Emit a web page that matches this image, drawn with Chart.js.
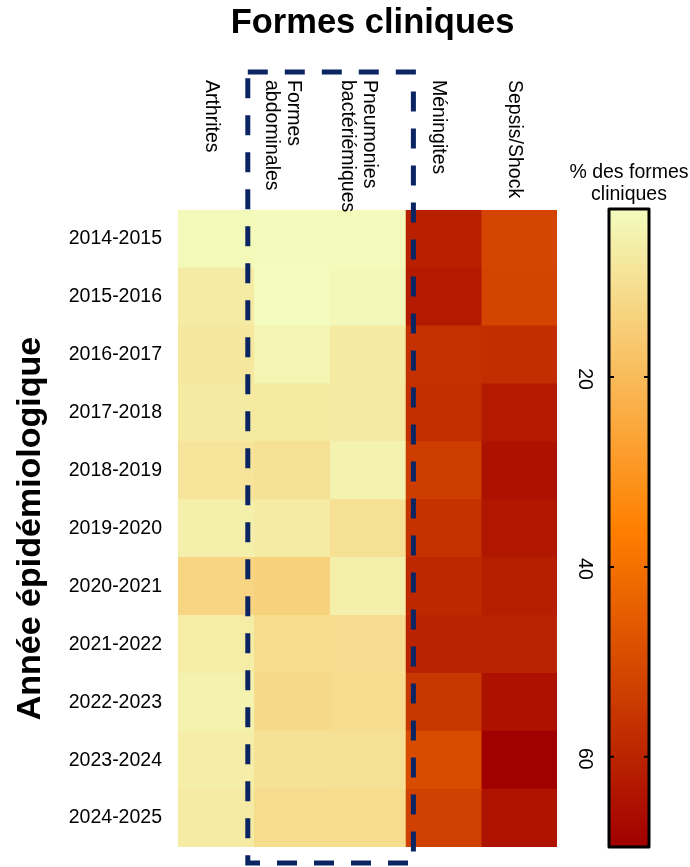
<!DOCTYPE html>
<html>
<head>
<meta charset="utf-8">
<script src="https://cdn.jsdelivr.net/npm/chart.js@4/dist/chart.umd.min.js"></script>
<style>
  html, body { margin: 0; padding: 0; background: #fff; }
  canvas { display: block; }
</style>
</head>
<body>
<canvas id="heat" width="690" height="867"></canvas>
<script>
// Epidemiological seasons (rows, top to bottom)
const years = [
  '2014-2015', '2015-2016', '2016-2017', '2017-2018', '2018-2019', '2019-2020',
  '2020-2021', '2021-2022', '2022-2023', '2023-2024', '2024-2025'
];

// Clinical forms (columns, left to right); multi-line labels as arrays
const forms = [
  'Arthrites',
  ['Formes', 'abdominales'],
  ['Pneumonies', 'bactériémiques'],
  'Méningites',
  'Sepsis/Shock'
];

// Share of each clinical form per season (%)
const arthrites   = [3.1, 6.9, 8.0, 7.2, 8.8, 5.5, 12.9, 6.6, 5.0, 6.1, 6.9];
const abdominales = [2.8, 2.3, 4.2, 7.7, 9.9, 6.9, 14.0, 11.0, 11.5, 9.6, 11.0];
const pneumonies  = [2.8, 3.4, 7.2, 7.4, 5.0, 9.9, 5.8, 10.7, 11.0, 9.9, 11.0];
const meningites  = [61.1, 62.7, 56.9, 57.2, 53.5, 56.4, 59.0, 60.3, 55.1, 49.6, 52.7];
const sepsis      = [51.4, 51.7, 57.4, 62.7, 64.8, 63.7, 61.6, 60.3, 64.8, 69.5, 64.5];

const seriesByForm = [arthrites, abdominales, pneumonies, meningites, sepsis];

// Colour bar
const colorbarTicks = [20, 40, 60];
const colorbarTitle = ['% des formes', 'cliniques'];
const chartTitle = 'Formes cliniques';
const yTitle = 'Année épidémiologique';

const allValues = seriesByForm.flat();
const cMin = Math.min(...allValues);
const cMax = Math.max(...allValues);

// Three-stop ramp: pale yellow -> orange -> dark red
const rampStops = [[243, 252, 190], [255, 128, 0], [160, 0, 0]];
function heatColor(v) {
  let t = (v - cMin) / (cMax - cMin);
  t = Math.max(0, Math.min(1, t));
  let a, b, u;
  if (t <= 0.5) { a = rampStops[0]; b = rampStops[1]; u = t * 2; }
  else { a = rampStops[1]; b = rampStops[2]; u = (t - 0.5) * 2; }
  const c = a.map((x, i) => Math.round(x + (b[i] - x) * u));
  return `rgb(${c[0]},${c[1]},${c[2]})`;
}

const FONT = '"Liberation Sans", Arial, Helvetica, sans-serif';
Chart.defaults.font.family = FONT;
Chart.defaults.color = '#000';

// One dataset per clinical form: each cell is a floating bar spanning its column
const datasets = forms.map((f, c) => ({
  label: Array.isArray(f) ? f.join(' ') : f,
  data: years.map((y, r) => ({ x: [c - 0.5, c + 0.5], y: y, v: seriesByForm[c][r] })),
  backgroundColor: ctx => (ctx.raw ? heatColor(ctx.raw.v) : '#fff'),
  borderWidth: 0,
  grouped: false,
  categoryPercentage: 1,
  barPercentage: 1
}));

const decorations = {
  id: 'decorations',
  afterDatasetsDraw(chart) {
    const { ctx, chartArea } = chart;
    const xs = chart.scales.x;

    // Dashed frame around the abdominal and pneumonia columns
    ctx.save();
    const fLeft = xs.getPixelForValue(0.5) - 6;
    const fRight = xs.getPixelForValue(2.5) + 8;
    const fTop = chartArea.top - 138;
    const fBottom = chartArea.bottom + 16;
    ctx.strokeStyle = '#0b2462';
    ctx.lineWidth = 5;
    ctx.setLineDash([20, 17]);
    ctx.beginPath();
    ctx.moveTo(fLeft, fTop);
    ctx.lineTo(fRight, fTop);
    ctx.lineTo(fRight, fBottom);
    ctx.lineTo(fLeft, fBottom);
    ctx.closePath();
    ctx.stroke();
    ctx.restore();
  },
  afterDraw(chart) {
    const { ctx, chartArea } = chart;
    const xs = chart.scales.x;

    // Main title
    ctx.save();
    ctx.fillStyle = '#000';
    ctx.font = `bold 34.5px ${FONT}`;
    ctx.textAlign = 'center';
    ctx.textBaseline = 'middle';
    ctx.fillText(chartTitle, (chartArea.left + chartArea.right) / 2 + 5, 23);
    ctx.restore();

    // Column labels, rotated to read top to bottom
    ctx.save();
    ctx.fillStyle = '#000';
    ctx.font = `19.5px ${FONT}`;
    const labelTop = chartArea.top - 130;
    forms.forEach((f, c) => {
      const lines = Array.isArray(f) ? f : [f];
      const cx = xs.getPixelForValue(c) - 5 - (lines.length - 1) * 4;
      lines.forEach((ln, k) => {
        const lx = cx + ((lines.length - 1) / 2 - k) * 22;
        ctx.save();
        ctx.translate(lx, labelTop);
        ctx.rotate(Math.PI / 2);
        ctx.textAlign = 'left';
        ctx.textBaseline = 'middle';
        ctx.fillText(ln, 0, 0);
        ctx.restore();
      });
    });
    ctx.restore();

    // Colour bar: same vertical extent as the heatmap, value range cMin..cMax
    const barLeft = chartArea.right + 52;
    const barW = 40;
    const barTop = chartArea.top - 1;
    const barBottom = chartArea.bottom;
    const valueToY = v => barTop + (v - cMin) / (cMax - cMin) * (barBottom - barTop);
    ctx.save();
    const grad = ctx.createLinearGradient(0, barTop, 0, barBottom);
    grad.addColorStop(0, heatColor(cMin));
    grad.addColorStop(0.5, heatColor((cMin + cMax) / 2));
    grad.addColorStop(1, heatColor(cMax));
    ctx.fillStyle = grad;
    ctx.fillRect(barLeft, barTop, barW, barBottom - barTop);

    ctx.strokeStyle = '#000';
    ctx.lineWidth = 2;
    colorbarTicks.forEach(t => {
      const ty = valueToY(t);
      ctx.beginPath();
      ctx.moveTo(barLeft, ty); ctx.lineTo(barLeft + 5, ty);
      ctx.moveTo(barLeft + barW - 5, ty); ctx.lineTo(barLeft + barW, ty);
      ctx.stroke();
    });

    ctx.lineWidth = 3;
    ctx.lineJoin = 'round';
    ctx.strokeRect(barLeft, barTop, barW, barBottom - barTop);

    // Tick values, rotated like the column labels
    ctx.fillStyle = '#000';
    ctx.font = `19.5px ${FONT}`;
    colorbarTicks.forEach(t => {
      const ty = valueToY(t);
      ctx.save();
      ctx.translate(barLeft - 25, ty + 2);
      ctx.rotate(Math.PI / 2);
      ctx.textAlign = 'center';
      ctx.textBaseline = 'middle';
      ctx.fillText(String(t), 0, 0);
      ctx.restore();
    });

    // Colour bar title
    ctx.textAlign = 'center';
    ctx.textBaseline = 'middle';
    colorbarTitle.forEach((ln, k) => {
      ctx.fillText(ln, barLeft + barW / 2, barTop - 36 + k * 22);
    });
    ctx.restore();
  }
};

new Chart(document.getElementById('heat'), {
  type: 'bar',
  data: { labels: years, datasets },
  options: {
    indexAxis: 'y',
    responsive: false,
    animation: false,
    devicePixelRatio: 1,
    layout: { padding: { top: 210, right: 133, bottom: 20, left: 0 } },
    scales: {
      x: { type: 'linear', position: 'top', min: -0.5, max: 4.5, display: false },
      y: {
        type: 'category',
        position: 'left',
        offset: true,
        grid: { display: false, drawTicks: false },
        border: { display: false },
        ticks: { color: '#000', font: { size: 19.5 }, padding: 16 },
        title: {
          display: true,
          text: yTitle,
          color: '#000',
          font: { size: 34, weight: 'bold' },
          padding: { top: 10, bottom: 0 }
        },
        afterFit(scale) {
          scale.width = 178;
          scale.paddingTop = 0;
          scale.paddingBottom = 0;
        }
      }
    },
    plugins: {
      legend: { display: false },
      tooltip: { enabled: false },
      title: { display: false }
    }
  },
  plugins: [decorations]
});
</script>
</body>
</html>
